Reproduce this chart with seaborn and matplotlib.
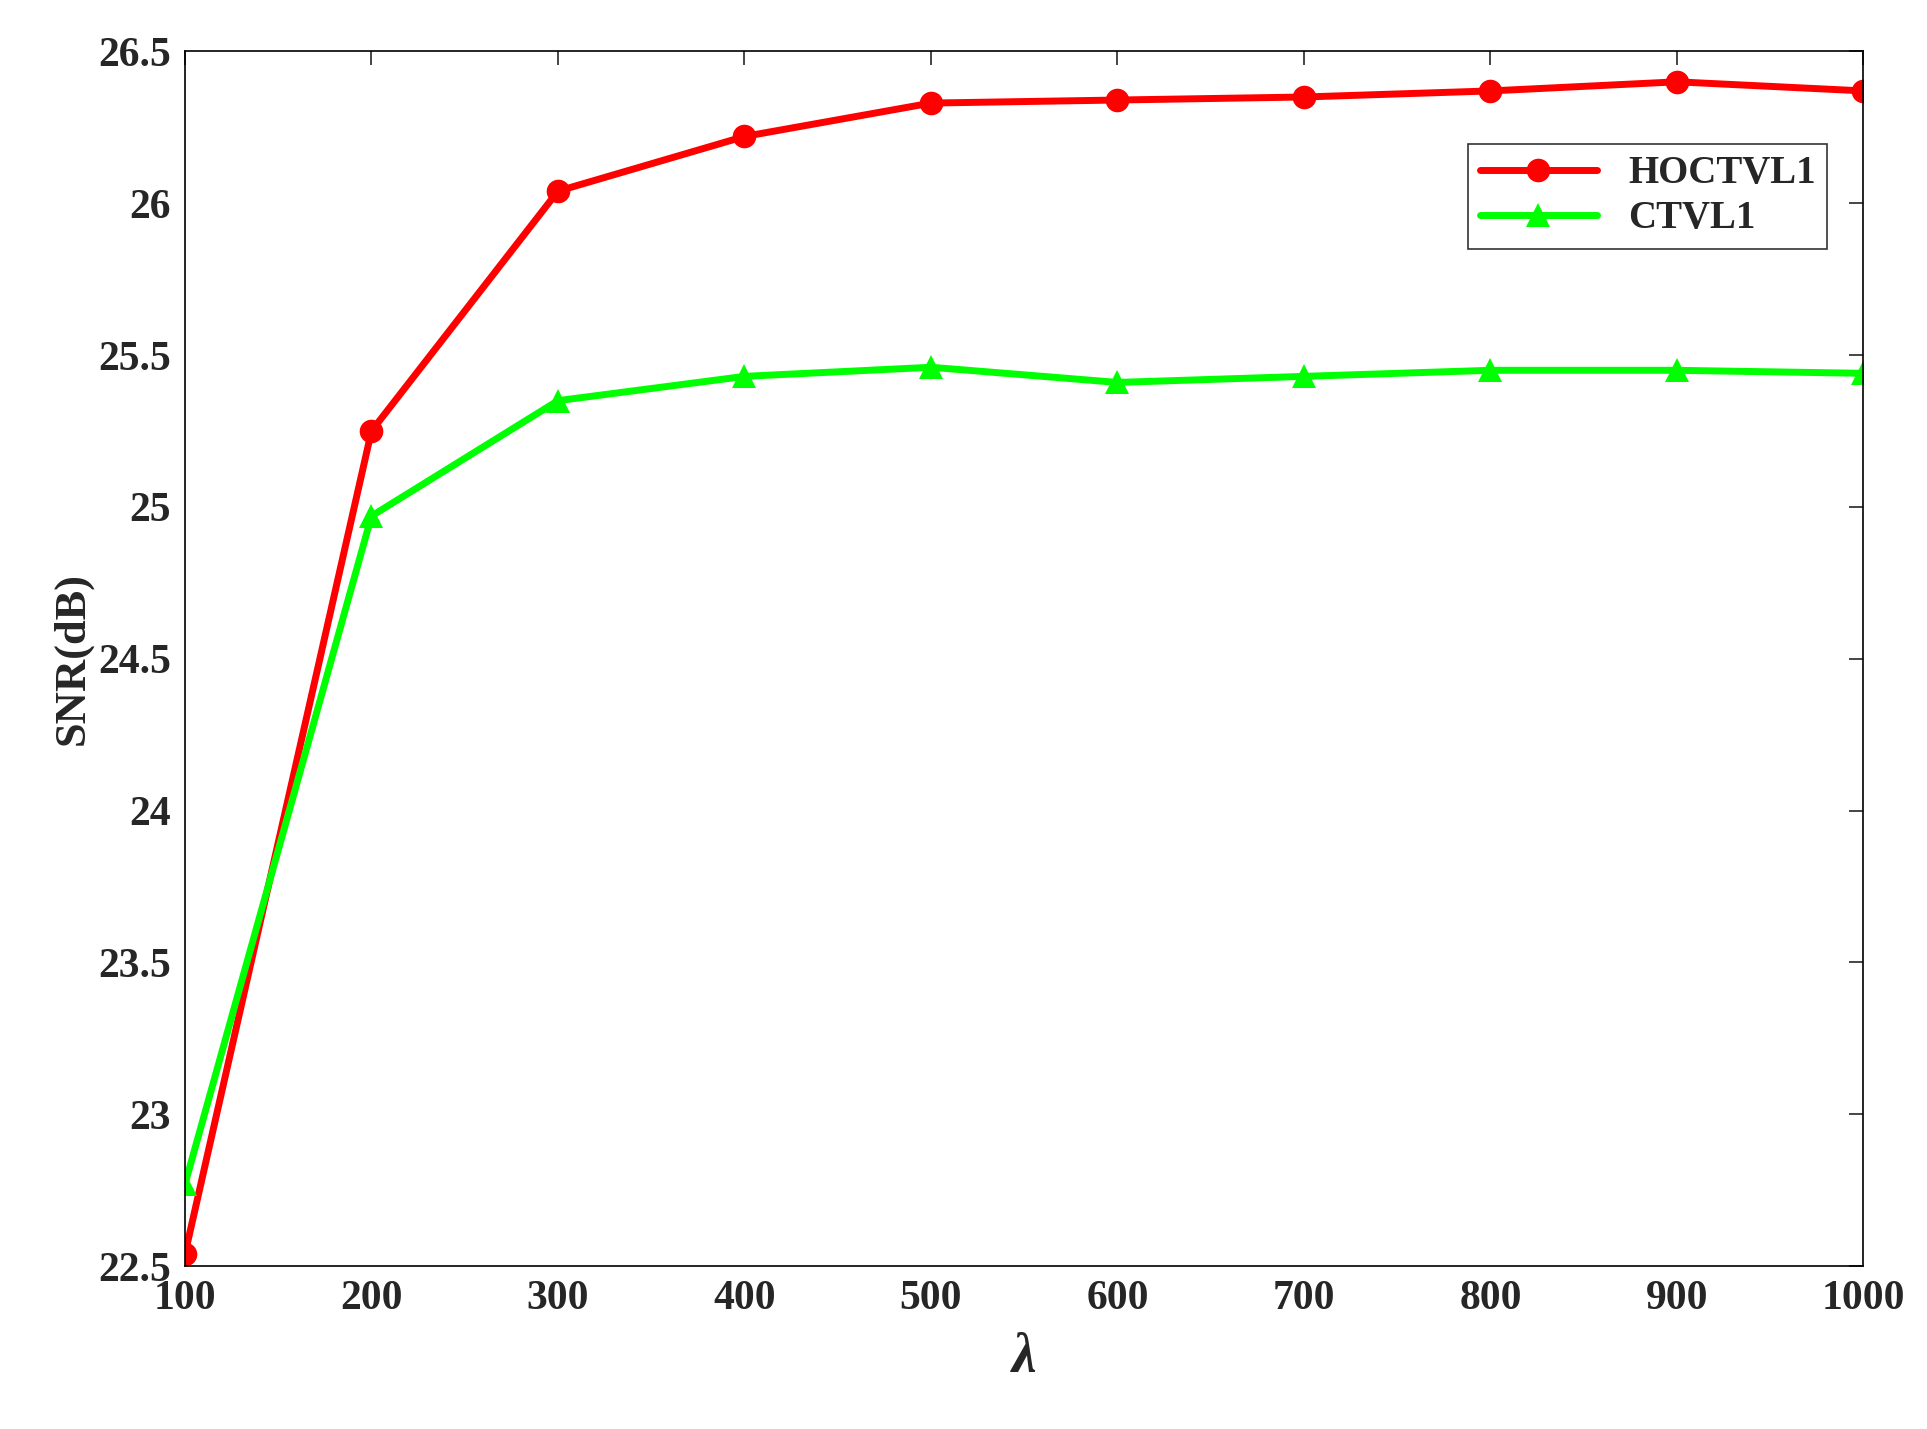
import pandas as pd
import matplotlib
matplotlib.use("Agg")
import matplotlib.pyplot as plt
import matplotlib.ticker as mticker
import seaborn as sns

sns.set_theme(style="white")
plt.rcParams['font.family'] = ['Liberation Serif', 'DejaVu Serif']
plt.rcParams['font.weight'] = 'bold'

lam = [100, 200, 300, 400, 500, 600, 700, 800, 900, 1000]
hoctvl1 = [22.54, 25.25, 26.04, 26.22, 26.33, 26.34, 26.35, 26.37, 26.40, 26.37]
ctvl1 = [22.77, 24.97, 25.35, 25.43, 25.46, 25.41, 25.43, 25.45, 25.45, 25.44]

df = pd.DataFrame({'lam': lam * 2,
                   'snr': hoctvl1 + ctvl1,
                   'method': ['HOCTVL1'] * len(lam) + ['CTVL1'] * len(lam)})

fig = plt.figure(figsize=(19.27, 14.29), dpi=100)
ax = fig.add_axes([0.096, 0.114, 0.871, 0.85])
sns.lineplot(data=df, x='lam', y='snr', hue='method', style='method',
             palette={'HOCTVL1': '#ff0000', 'CTVL1': '#00ff00'},
             markers={'HOCTVL1': 'o', 'CTVL1': '^'}, dashes=False,
             linewidth=5, markersize=17, markeredgewidth=0, ax=ax)

ax.set_xlim(100, 1000)
ax.set_ylim(22.5, 26.5)
ax.set_xticks(lam)
ax.set_yticks([22.5, 23, 23.5, 24, 24.5, 25, 25.5, 26, 26.5])
ax.yaxis.set_major_formatter(mticker.FormatStrFormatter('%g'))
ax.tick_params(direction='in', length=10, width=1.2, top=True, right=True,
               labelsize=30, pad=10)
for s in ax.spines.values():
    s.set_color('black')
    s.set_linewidth(1.2)
for lab in ax.get_xticklabels() + ax.get_yticklabels():
    lab.set_fontweight('bold')
ax.set_xlabel(r'$\boldsymbol{\lambda}$' if False else 'λ', fontsize=40,
              fontweight='bold', fontstyle='italic', labelpad=10)
ax.set_ylabel('SNR(dB)', fontsize=32, fontweight='bold')
leg = ax.legend(loc='upper right', bbox_to_anchor=(0.99, 0.94), fontsize=28,
                frameon=True, fancybox=False, edgecolor='black',
                handlelength=3, borderpad=0.3, labelspacing=0.2)
leg.get_frame().set_linewidth(1.2)
for t in leg.get_texts():
    t.set_fontweight('bold')

fig.savefig('out.png', dpi=100, facecolor='white')
